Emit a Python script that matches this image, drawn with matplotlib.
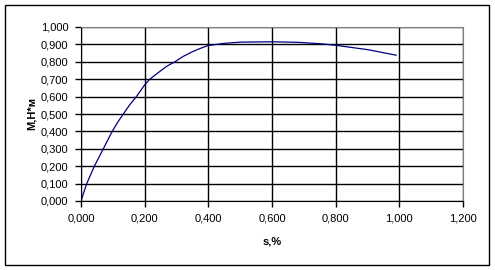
import matplotlib
matplotlib.use('Agg')
import matplotlib.pyplot as plt
from matplotlib.ticker import FuncFormatter, MultipleLocator
from matplotlib.patches import Rectangle

# curve (slip s, torque M)
s_vals = [0.0, 0.018, 0.042, 0.070, 0.098, 0.115, 0.133, 0.153, 0.174, 0.200, 0.216,
          0.250, 0.270, 0.295, 0.320, 0.350, 0.375, 0.398, 0.450, 0.500, 0.600,
          0.680, 0.750, 0.800, 0.900, 0.990]
m_vals = [0.0, 0.100, 0.200, 0.300, 0.400, 0.452, 0.500, 0.553, 0.600, 0.667, 0.700,
          0.748, 0.775, 0.800, 0.830, 0.858, 0.877, 0.893, 0.906, 0.913, 0.915,
          0.912, 0.904, 0.895, 0.870, 0.838]

x_label = 's,%'
y_label = 'M,H*м'

plt.rcParams['font.family'] = ['Liberation Sans', 'DejaVu Sans']

fig = plt.figure(figsize=(4.95, 2.70), dpi=100)
ax = fig.add_axes([81 / 495, 1 - 201 / 270, 382 / 495, 174 / 270])

ax.plot(s_vals, m_vals, color='#000080', lw=0.9)

ax.set_xlim(0, 1.2)
ax.set_ylim(0, 1.0)
ax.xaxis.set_major_locator(MultipleLocator(0.2))
ax.yaxis.set_major_locator(MultipleLocator(0.1))
fmt = FuncFormatter(lambda v, p: '{:.3f}'.format(v).replace('.', ','))
ax.xaxis.set_major_formatter(fmt)
ax.yaxis.set_major_formatter(fmt)

ax.grid(True, color='black', lw=1)
ax.set_axisbelow(True)
ax.tick_params(direction='out', length=4, width=1, labelsize=8, pad=5, colors='black')

for side in ['left', 'bottom']:
    ax.spines[side].set_color('black')
for side in ['top', 'right']:
    ax.spines[side].set_color('#808080')

ax.set_xlabel(x_label, fontsize=8, fontweight='bold', labelpad=9)
ax.set_ylabel(y_label, fontsize=8, fontweight='bold', labelpad=3)

# outer chart frame
fig.patches.append(Rectangle((5 / 495, 5 / 270), 484 / 495, 260 / 270,
                             transform=fig.transFigure, fill=False,
                             edgecolor='black', lw=1))

fig.savefig('out.png', dpi=100, facecolor='white')
